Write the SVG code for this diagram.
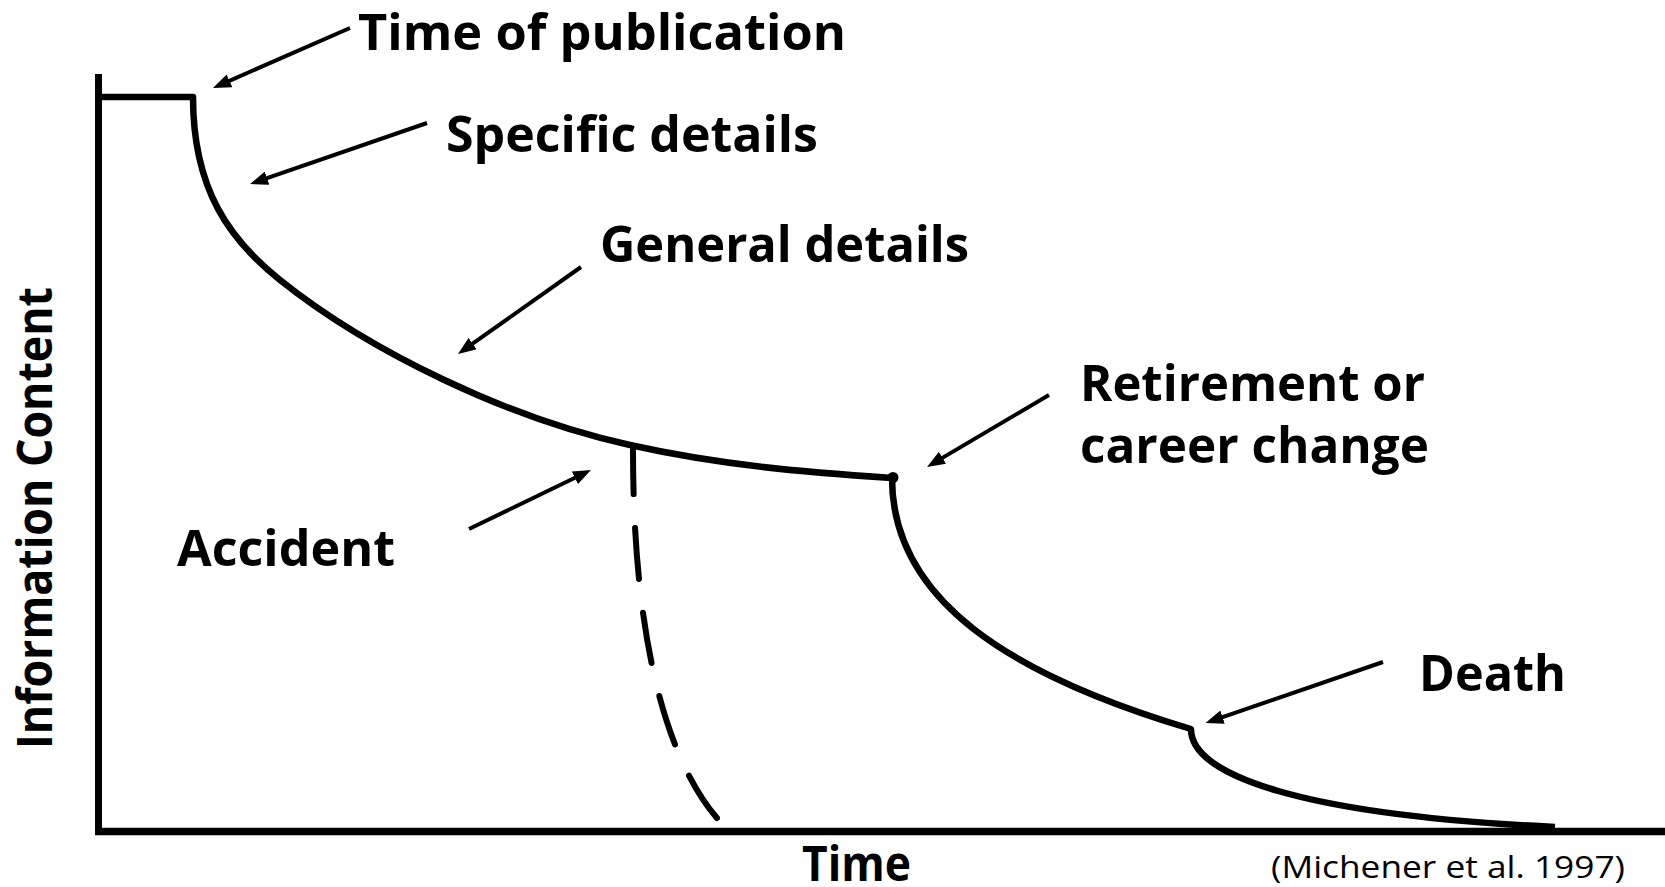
<svg xmlns="http://www.w3.org/2000/svg" width="1665" height="887" viewBox="0 0 1665 887">
<style>
.lbl{font-family:"Open Sans","Noto Sans","Liberation Sans",sans-serif;font-weight:700;font-size:51px;fill:#000}
.ax{font-family:"Open Sans","Noto Sans","Liberation Sans",sans-serif;font-weight:700;font-size:48px;fill:#000}
.cite{font-family:"Open Sans","Noto Sans","Liberation Sans",sans-serif;font-weight:400;font-size:31px;fill:#000}
.arr{stroke:#000;stroke-width:4;fill:none;marker-end:url(#ah)}
.crv{stroke:#000;fill:none;stroke-width:6.5;stroke-linejoin:round}
</style>
<defs>
<marker id="ah" viewBox="0 0 18 14" refX="10" refY="7" markerWidth="18" markerHeight="14" markerUnits="userSpaceOnUse" orient="auto">
<path d="M0,0 L18,7 L0,14 z" fill="#000"/>
</marker>
</defs>
<rect width="1665" height="887" fill="#fff"/>
<g id="axes">
<line x1="98.5" y1="74" x2="98.5" y2="835" stroke="#000" stroke-width="7"/>
<line x1="95" y1="831.5" x2="1665" y2="831.5" stroke="#000" stroke-width="7.5"/>
</g>
<g id="curve">
<path class="crv" d="M98,97 L193,97 C193,190 230,240 280,280 C370,352 510,419 630,445 C720,465 802,472 892,478 C892,600 1010,675 1191,729 C1191,775 1300,815 1555,827"/>
<circle cx="893" cy="477.5" r="5.5" fill="#000"/>
<path d="M633,450 C633,620 660,760 725,827" fill="none" stroke="#000" stroke-width="6" stroke-linecap="round" stroke-dasharray="51 34" stroke-dashoffset="7"/>
</g>
<g id="connectors">
<line class="arr" x1="350" y1="28" x2="220.3" y2="84.8"/>
<line class="arr" x1="427" y1="123" x2="257.6" y2="181.4"/>
<line class="arr" x1="581" y1="267" x2="464.5" y2="349.4"/>
<line class="arr" x1="1049" y1="395" x2="933.9" y2="462.9"/>
<line class="arr" x1="469" y1="529" x2="583.8" y2="473.5"/>
<line class="arr" x1="1383" y1="662" x2="1213.1" y2="720.4"/>
</g>
<g id="label-publication"><text class="lbl" x="358" y="50" textLength="488" lengthAdjust="spacingAndGlyphs">Time of publication</text></g>
<g id="label-specific"><text class="lbl" x="446" y="152" textLength="372" lengthAdjust="spacingAndGlyphs">Specific details</text></g>
<g id="label-general"><text class="lbl" x="600" y="262" textLength="369" lengthAdjust="spacingAndGlyphs">General details</text></g>
<g id="label-retirement"><text class="lbl" x="1080" y="401" textLength="345" lengthAdjust="spacingAndGlyphs">Retirement or</text><text class="lbl" x="1080" y="463" textLength="349" lengthAdjust="spacingAndGlyphs">career change</text></g>
<g id="label-accident"><text class="lbl" x="177" y="566" textLength="218" lengthAdjust="spacingAndGlyphs">Accident</text></g>
<g id="label-death"><text class="lbl" x="1419" y="691" textLength="147" lengthAdjust="spacingAndGlyphs">Death</text></g>
<g id="label-time"><text class="ax" x="802" y="881" textLength="109" lengthAdjust="spacingAndGlyphs">Time</text></g>
<g id="label-info"><text class="ax" transform="translate(52,749) rotate(-90)" x="0" y="0" textLength="462" lengthAdjust="spacingAndGlyphs">Information Content</text></g>
<g id="label-cite"><text class="cite" x="1271" y="878" textLength="354" lengthAdjust="spacingAndGlyphs">(Michener et al. 1997)</text></g>
</svg>
